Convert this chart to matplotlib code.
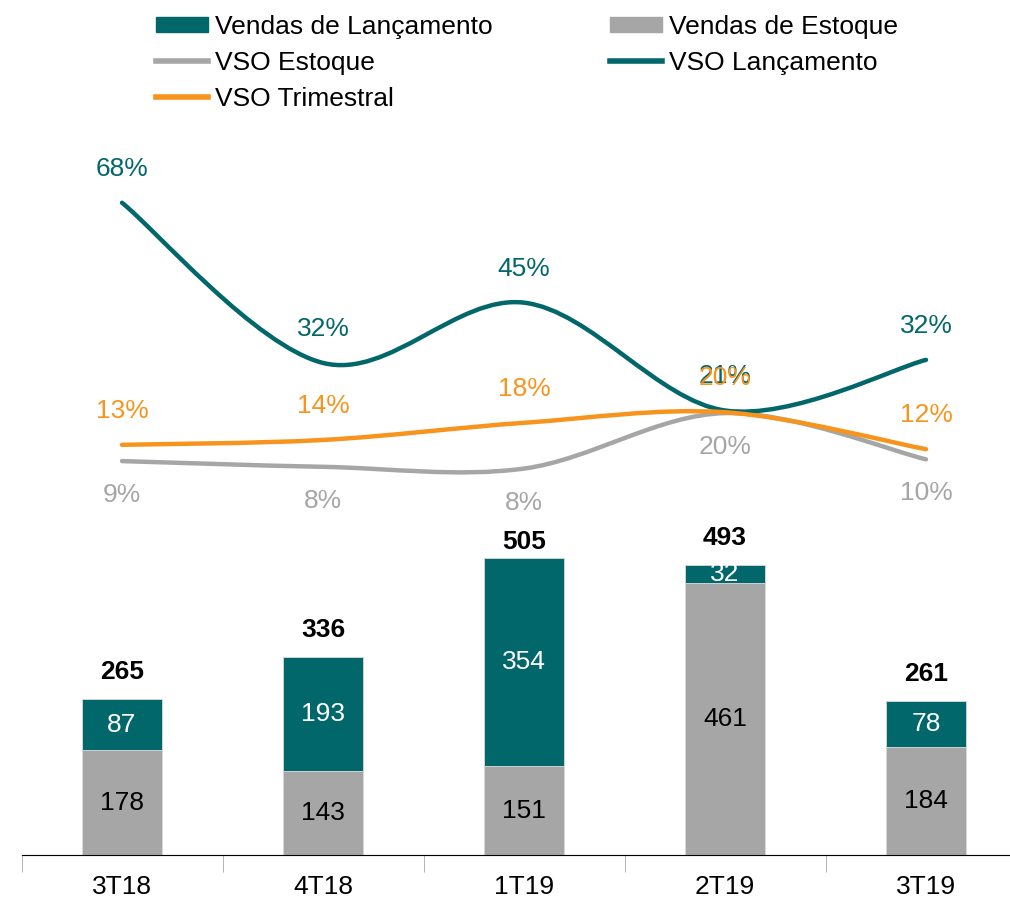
import numpy as np
import matplotlib
matplotlib.use("Agg")
import matplotlib.pyplot as plt
from matplotlib.path import Path
from matplotlib.patches import PathPatch, Patch
from matplotlib.lines import Line2D

plt.rcParams['font.family'] = ['Liberation Sans', 'DejaVu Sans']

# dados
trimestres = ['3T18', '4T18', '1T19', '2T19', '3T19']
vendas_lanc = [87, 193, 354, 32, 78]
vendas_estq = [178, 143, 151, 461, 184]
vendas_total = [265, 336, 505, 493, 261]
vso_lanc = [68.0, 31.6, 45.3, 20.8, 32.3]
vso_estq = [9.3, 8.0, 7.6, 20.2, 9.7]
vso_trim = [13.0, 14.1, 18.0, 20.4, 12.0]

TEAL = '#02676A'
GRAY = '#A6A6A6'
ORANGE = '#F7941D'
FS = 19

fig = plt.figure(figsize=(10.10, 8.98), dpi=100)
ax = fig.add_axes([21.5 / 1010, 43 / 898, 1005 / 1010, 735 / 898])
ax2 = ax.twinx()

x = np.arange(len(trimestres))
w = 0.4
ax.bar(x, vendas_estq, w, color=GRAY, edgecolor='#d9d9d9', linewidth=0.6, zorder=2)
ax.bar(x, vendas_lanc, w, bottom=vendas_estq, color=TEAL, edgecolor='#d9d9d9',
       linewidth=0.6, zorder=2)
ax.set_xlim(-0.5, 4.5)
ax.set_ylim(0, 1248)

for i in range(len(x)):
    ax.text(x[i], vendas_estq[i] / 2, str(vendas_estq[i]), ha='center', va='center',
            fontsize=FS, color='black', zorder=3)
    ax.text(x[i], vendas_estq[i] + vendas_lanc[i] / 2, str(vendas_lanc[i]),
            ha='center', va='center', fontsize=FS, color='white', zorder=3)
    dy = 16 if i == 2 else 27  # 505 fica mais colado na barra
    ax.annotate(str(vendas_total[i]), (x[i], vendas_total[i]), xytext=(0, dy),
                textcoords='offset pixels', ha='center', va='center',
                fontsize=FS, fontweight='bold', color='black')


# curvas suavizadas estilo Excel (bezier)
def suave(xs, ys):
    pts = list(zip(xs, ys))
    verts = [pts[0]]
    codes = [Path.MOVETO]
    n = len(pts)
    for i in range(n - 1):
        p0 = pts[i - 1] if i > 0 else pts[i]
        p1 = pts[i]
        p2 = pts[i + 1]
        p3 = pts[i + 2] if i + 2 < n else pts[i + 1]
        c1 = (p1[0] + (p2[0] - p0[0]) / 6, p1[1] + (p2[1] - p0[1]) / 6)
        c2 = (p2[0] - (p3[0] - p1[0]) / 6, p2[1] - (p3[1] - p1[1]) / 6)
        verts += [c1, c2, p2]
        codes += [Path.CURVE4] * 3
    return Path(verts, codes)


for serie, cor in [(vso_estq, GRAY), (vso_lanc, TEAL), (vso_trim, ORANGE)]:
    ax2.add_patch(PathPatch(suave(x, serie), facecolor='none', edgecolor=cor,
                            linewidth=3.2, capstyle='round', zorder=3))

ax2.set_ylim(-80.2, 86.8)

for i in range(len(x)):
    ax2.annotate('%.0f%%' % vso_lanc[i], (x[i], vso_lanc[i]), xytext=(0, 34),
                 textcoords='offset pixels', ha='center', va='center',
                 fontsize=FS, color=TEAL)
    ax2.annotate('%.0f%%' % vso_trim[i], (x[i], vso_trim[i]), xytext=(0, 34),
                 textcoords='offset pixels', ha='center', va='center',
                 fontsize=FS, color=ORANGE)
    ax2.annotate('%.0f%%' % vso_estq[i], (x[i], vso_estq[i]), xytext=(0, -34),
                 textcoords='offset pixels', ha='center', va='center',
                 fontsize=FS, color=GRAY)

for a in (ax, ax2):
    for s in ['top', 'right', 'left']:
        a.spines[s].set_visible(False)
    a.set_yticks([])
ax.spines['bottom'].set_color(GRAY)
ax.set_xticks(x)
ax.set_xticklabels(trimestres, fontsize=FS)
ax.tick_params(axis='x', which='major', length=0, pad=14.5)
ax.set_xticks(np.arange(-0.5, 5, 1), minor=True)
ax.tick_params(axis='x', which='minor', length=12, color=GRAY)

handles = [Patch(color=TEAL), Line2D([], [], color=GRAY, lw=4),
           Line2D([], [], color=ORANGE, lw=4), Patch(color=GRAY),
           Line2D([], [], color=TEAL, lw=4)]
labels = ['Vendas de Lançamento', 'VSO Estoque', 'VSO Trimestral',
          'Vendas de Estoque', 'VSO Lançamento']
fig.legend(handles, labels, ncol=2, loc='upper left', bbox_to_anchor=(141 / 1010, 1.0),
           frameon=False, fontsize=FS, handlelength=2.0, handleheight=0.5,
           handletextpad=0.24, columnspacing=4.45, labelspacing=0.46,
           borderaxespad=0.15)

fig.savefig('out.png', dpi=100)
